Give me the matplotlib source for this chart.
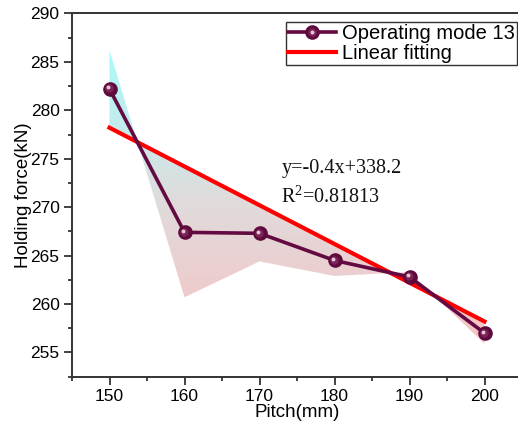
import numpy as np
import matplotlib
matplotlib.use("Agg")
import matplotlib.pyplot as plt
from matplotlib.path import Path
from matplotlib.patches import PathPatch
from matplotlib.transforms import offset_copy
from matplotlib.colors import LinearSegmentedColormap
from matplotlib.legend_handler import HandlerTuple
from matplotlib.ticker import MultipleLocator

plt.rcParams['font.family'] = ['Liberation Sans', 'DejaVu Sans']
plt.rcParams['mathtext.fontset'] = 'custom'
plt.rcParams['mathtext.rm'] = 'Liberation Serif'

# Measured holding force for each pitch
pitch = [150, 160, 170, 180, 190, 200]
force = [282.2, 267.4, 267.3, 264.5, 262.8, 257.0]

# Outline of the shaded envelope drawn against the fitted line
envelope = [286.2, 260.7, 264.4, 262.9, 263.3, 255.9]

# Linear fit stated on the chart
slope = -0.4
intercept = 338.2
r_squared = 0.81813

x_ticks = [150, 160, 170, 180, 190, 200]
y_ticks = [255, 260, 265, 270, 275, 280, 285, 290]

fig = plt.figure(figsize=(5.18, 4.28), dpi=100)
ax = fig.add_axes([72 / 518, 51.3 / 428, 450 / 518, 363.3 / 428])

x = np.array(pitch, dtype=float)
fit = slope * x + intercept

ax.set_xlim(145, 205)
ax.set_ylim(252.5, 290)

# Gradient-filled envelope between the outline and the fitted line
band = ax.fill_between(x, envelope, fit, interpolate=True, facecolor='none', edgecolor='none')
clip = PathPatch(Path.make_compound_path(*band.get_paths()), transform=ax.transData,
                 facecolor='none', edgecolor='none')
ax.add_patch(clip)
cmap = LinearSegmentedColormap.from_list('band', ['#f7c2c4', '#dfdcdc', '#a8fbfb'])
grad = np.linspace(0, 1, 256).reshape(-1, 1)
img = ax.imshow(grad, cmap=cmap, origin='lower', aspect='auto',
                extent=[149, 201, 255.9, 286.2], zorder=1)
img.set_clip_path(clip)

# Measured data with sphere-like markers
dark = '#5e0a3c'
line, = ax.plot(x, force, '-', color='#640a42', lw=2.6, marker='o', ms=9.5,
                mfc=dark, mec=dark, zorder=3)
mid_off = offset_copy(ax.transData, fig=fig, x=-0.6, y=0.6, units='dots')
hi_off = offset_copy(ax.transData, fig=fig, x=-1.6, y=1.6, units='dots')
mid, = ax.plot(x, force, 'o', ms=6, color='#7c2458', mec='none', transform=mid_off, zorder=4)
hi, = ax.plot(x, force, 'o', ms=2.8, color='#e8c6da', mec='none', transform=hi_off, zorder=5)

# Fitted line
fit_line, = ax.plot(x, fit, '-', color='#ff0000', lw=3, zorder=2)

serif = ['Liberation Serif', 'DejaVu Serif']
ax.text(172.9, 273.5, f'y={slope}x+{intercept}', family=serif, fontsize=14.5, color='#111111')
ax.text(172.9, 270.5, r'R$^{\mathrm{2}}$=' + f'{r_squared}', family=serif, fontsize=14.5,
        color='#111111')

ax.set_xticks(x_ticks)
ax.set_yticks(y_ticks)
ax.xaxis.set_minor_locator(MultipleLocator(5))
ax.yaxis.set_minor_locator(MultipleLocator(2.5))
ax.tick_params(which='major', direction='out', length=6, width=1.3, labelsize=12.5,
               color='#333333', pad=3)
ax.tick_params(which='minor', direction='out', length=3, width=1.3, color='#333333')
ax.tick_params(top=False, right=False, which='both')
for s in ['left', 'bottom', 'top']:
    ax.spines[s].set_linewidth(1.4)
    ax.spines[s].set_color('#333333')
ax.spines['right'].set_visible(False)

ax.set_xlabel('Pitch(mm)', fontsize=13.5, labelpad=0)
ax.set_ylabel('Holding force(kN)', fontsize=13.5, labelpad=-1)

leg = ax.legend([(line, mid, hi), fit_line], ['Operating mode 13', 'Linear fitting'],
                handler_map={tuple: HandlerTuple(ndivide=1)},
                loc='upper right', bbox_to_anchor=(517 / 518, (428 - 22) / 428),
                bbox_transform=fig.transFigure, borderaxespad=0, fontsize=14.5,
                frameon=True, fancybox=False, edgecolor='#333333', framealpha=1,
                borderpad=0.1, handletextpad=0.3, labelspacing=0.05, handlelength=2.4)
leg.get_frame().set_linewidth(1.0)

fig.savefig('out.png', dpi=100)
